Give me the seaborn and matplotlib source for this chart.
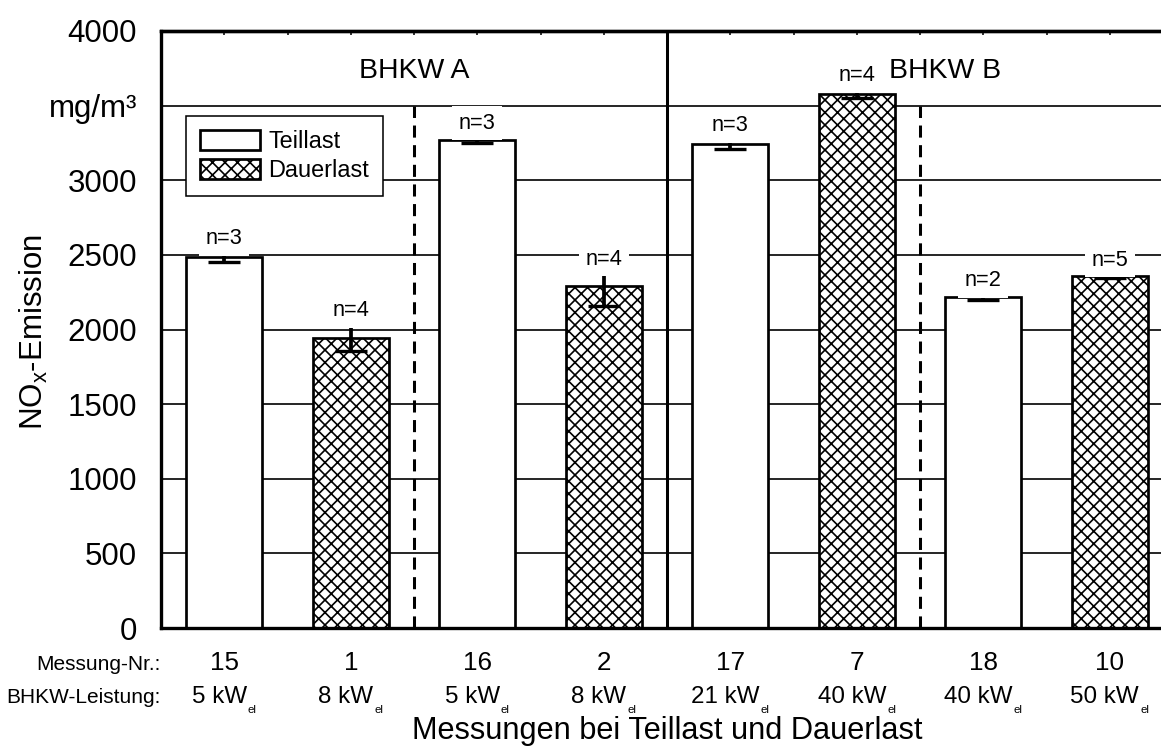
import numpy as np
import pandas as pd
import matplotlib
matplotlib.use("Agg")
import matplotlib.pyplot as plt
import seaborn as sns
from matplotlib.patches import Patch
from matplotlib.ticker import MultipleLocator, FixedLocator
from matplotlib import font_manager

# ---------------- data ----------------
messung_nr = ["15", "1", "16", "2", "17", "7", "18", "10"]
leistung_kw = ["5", "8", "5", "8", "21", "40", "40", "50"]
lastart = ["Teillast", "Dauerlast", "Teillast", "Dauerlast",
           "Teillast", "Dauerlast", "Teillast", "Dauerlast"]
nox = [2485, 1945, 3270, 2290, 3240, 3580, 2215, 2360]
err_low = [33, 90, 20, 135, 33, 30, 20, 12]
err_high = [33, 90, 20, 90, 33, 30, 20, 12]
n_mess = [3, 4, 3, 4, 3, 4, 2, 5]
y_ticks = [0, 500, 1000, 1500, 2000, 2500, 3000, 3500, 4000]
y_ticklabels = ["0", "500", "1000", "1500", "2000", "2500", "3000", "mg/m³", "4000"]
gruppen = ["BHKW A", "BHKW B"]
gruppen_x = [1.5, 5.7]

# ---------------- fonts ----------------
names = {f.name for f in font_manager.fontManager.ttflist}
REG = "Liberation Sans" if "Liberation Sans" in names else "DejaVu Sans"
NAR = "Liberation Sans Narrow" if "Liberation Sans Narrow" in names else REG
if NAR != REG:
    ns_h, ns_w = 1.0, 1.0
else:
    ns_h, ns_w = 0.91, 0.82

sns.set_style("white")
plt.rcParams["font.family"] = [REG, "DejaVu Sans"]
plt.rcParams["mathtext.default"] = "regular"
plt.rcParams["hatch.linewidth"] = 1.6
plt.rcParams["hatch.color"] = "black"
for k in ["text.color", "axes.labelcolor", "xtick.color", "ytick.color",
          "axes.edgecolor"]:
    plt.rcParams[k] = "black"

W, H, DPI = 1161, 746, 75
fig = plt.figure(figsize=(W / DPI, H / DPI), dpi=DPI)
fig.patch.set_facecolor("white")
ax = fig.add_axes([161 / W, (H - 628) / H, 1012 / W, 597 / H])
ax.set_facecolor("white")

HATCH = "xx"

df = pd.DataFrame({"nr": messung_nr, "nox": nox, "last": lastart})
sns.barplot(data=df, x="nr", y="nox", order=messung_nr, color="white",
            saturation=1, edgecolor="black", linewidth=2.6, width=0.6,
            errorbar=None, ax=ax, zorder=2)
for patch, l in zip(ax.patches, lastart):
    if l == "Dauerlast":
        patch.set_hatch(HATCH)

xpos = np.arange(len(messung_nr))
ax.errorbar(xpos, nox, yerr=[err_low, err_high], fmt="none", ecolor="black",
            elinewidth=3.6, capsize=15, capthick=3.2, zorder=4)

ax.set_xlim(-0.5, 7.5)
ax.set_ylim(0, 4000)
ax.set_xlabel("")
ax.set_ylabel("")

# grid
ax.set_axisbelow(True)
ax.yaxis.grid(True, color="black", linewidth=1.6)
ax.xaxis.grid(False)

# separators
ax.axvline(3.5, color="black", lw=2.9, zorder=1.5)
ax.vlines([1.5, 5.5], 0, 3500, colors="black", lw=2.9,
          linestyles=[(0, (4, 2.5))], zorder=1.5)

# n labels
for i, n in enumerate(n_mess):
    ax.annotate(f"n={n}", xy=(i, nox[i] + err_high[i]), xytext=(0, 7.7),
                textcoords="offset points", ha="center", va="baseline",
                fontsize=23 * ns_h, family=NAR, zorder=6, color="black",
                bbox=dict(boxstyle="square,pad=0.3", facecolor="white",
                          edgecolor="none"))

# group labels
for gx, g in zip(gruppen_x, gruppen):
    ax.text(gx, 3685, g, ha="center", va="baseline",
            fontsize=31 * 0.88 if NAR == REG else 31,
            family=NAR, zorder=6, color="black")

# y axis
ax.set_yticks(y_ticks)
ax.set_yticklabels(y_ticklabels, fontsize=30)
ax.yaxis.set_minor_locator(MultipleLocator(250))
ax.tick_params(axis="y", which="major", direction="out", length=14.4,
               width=3.8, pad=8.6, colors="black")
ax.tick_params(axis="y", which="minor", direction="in", length=4, width=1.5,
               colors="black")

# x axis
ax.set_xticks(xpos)
ax.set_xticklabels([""] * len(xpos))
ax.xaxis.set_minor_locator(FixedLocator(np.arange(-0.5, 7.6, 1.0)))
ax.tick_params(axis="x", which="major", direction="out", length=14,
               width=3.8, colors="black")
ax.tick_params(axis="x", which="minor", direction="in", length=4, width=1.5,
               colors="black")

secax = ax.secondary_xaxis("top")
secax.set_xticks(np.arange(-0.5, 7.51, 0.5))
secax.set_xticklabels([])
secax.tick_params(direction="in", length=4, width=1.5, colors="black")
secax.spines["top"].set_linewidth(3.2)
secax.spines["top"].set_color("black")

for s in ["left", "bottom", "top", "right"]:
    ax.spines[s].set_visible(True)
    ax.spines[s].set_color("black")
    ax.spines[s].set_linewidth(3.2)

# x tick rows
for i, nr in enumerate(messung_nr):
    ax.annotate(nr, xy=(i, H - 670), xycoords=("data", "figure pixels"),
                ha="center", va="baseline", fontsize=25, family=REG,
                color="black", annotation_clip=False)
for i, kw in enumerate(leistung_kw):
    t = ax.annotate(f"{kw} kW", xy=(i, H - 703),
                    xycoords=("data", "figure pixels"), xytext=(-5, 0),
                    textcoords="offset pixels", ha="center", va="baseline",
                    fontsize=25.5 * ns_h, family=NAR, color="black",
                    annotation_clip=False)
    ax.annotate("el", xy=(1, 0), xycoords=t, xytext=(1, 3),
                textcoords="offset pixels", ha="left", va="top",
                fontsize=11, family=NAR, color="black",
                annotation_clip=False)

fig.text(161 / W, 76 / H, "Messung-Nr.:", ha="right", va="baseline",
         fontsize=24.5 * ns_w, family=NAR, color="black")
fig.text(161 / W, 43 / H, "BHKW-Leistung:", ha="right", va="baseline",
         fontsize=24.5 * ns_w, family=NAR, color="black")

fig.text(667 / W, 7 / H, "Messungen bei Teillast und Dauerlast",
         ha="center", va="baseline", fontsize=29.5, color="black")
fig.text(43 / W, (H - 332) / H, "NO$_{x}$-Emission", rotation=90,
         rotation_mode="anchor", ha="center", va="baseline", fontsize=30,
         color="black")

# legend
fs_leg = 25 * (0.9 if NAR == REG else 1.0)
handles = [Patch(facecolor="white", edgecolor="black", lw=2.6, label="Teillast"),
           Patch(facecolor="white", edgecolor="black", lw=2.6, hatch=HATCH,
                 label="Dauerlast")]
leg = ax.legend(handles=handles, loc="upper left",
                bbox_to_anchor=(186 / W, 1 - 116 / H),
                bbox_transform=fig.transFigure, borderaxespad=0,
                frameon=True, fancybox=False, framealpha=1,
                edgecolor="black", prop={"family": NAR, "size": fs_leg},
                handlelength=2.55, handleheight=0.95, handletextpad=0.35,
                borderpad=0.6, labelspacing=0.25, labelcolor="black")
leg.get_frame().set_linewidth(1.5)
leg.set_zorder(10)

fig.savefig("out.png", dpi=DPI, facecolor="white")
